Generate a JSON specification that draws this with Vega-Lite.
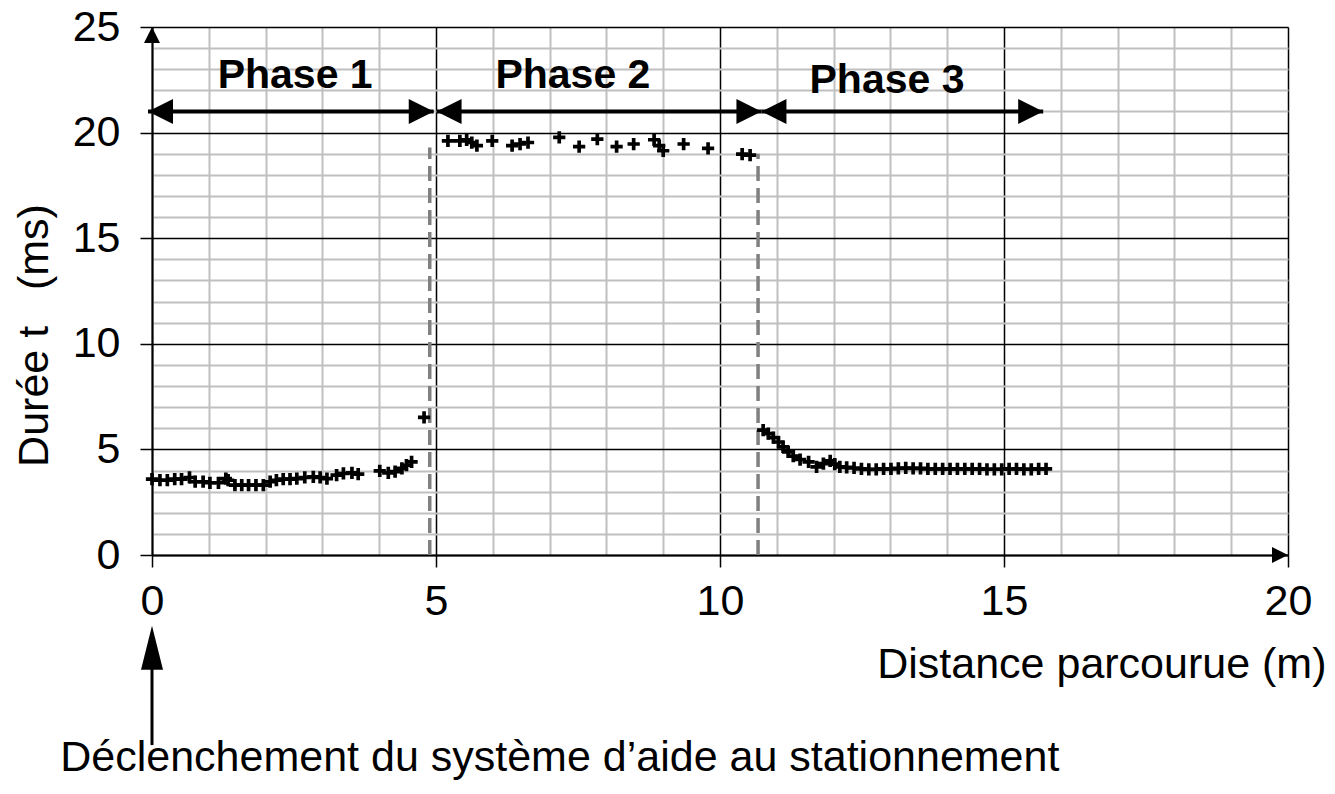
{
  "$schema": "https://vega.github.io/schema/vega-lite/v6.json",
  "width": 1136,
  "height": 528,
  "autosize": {"type": "none"},
  "padding": {"left": 152, "top": 27, "right": 47, "bottom": 239},
  "background": "white",
  "config": {"view": {"stroke": null}, "font": "Liberation Sans"},
  "datasets": {
    "points": [
      {"x": 0.00, "y": 3.59}, {"x": 0.14, "y": 3.54}, {"x": 0.27, "y": 3.54}, {"x": 0.40, "y": 3.59},
      {"x": 0.52, "y": 3.59}, {"x": 0.66, "y": 3.67}, {"x": 0.76, "y": 3.47}, {"x": 0.90, "y": 3.47},
      {"x": 1.02, "y": 3.42}, {"x": 1.17, "y": 3.42}, {"x": 1.30, "y": 3.62}, {"x": 1.34, "y": 3.54},
      {"x": 1.46, "y": 3.31}, {"x": 1.58, "y": 3.31}, {"x": 1.70, "y": 3.31}, {"x": 1.83, "y": 3.31},
      {"x": 1.96, "y": 3.31}, {"x": 2.08, "y": 3.47}, {"x": 2.19, "y": 3.54}, {"x": 2.31, "y": 3.59},
      {"x": 2.43, "y": 3.59}, {"x": 2.55, "y": 3.62}, {"x": 2.69, "y": 3.67}, {"x": 2.84, "y": 3.70},
      {"x": 2.96, "y": 3.67}, {"x": 3.08, "y": 3.62}, {"x": 3.25, "y": 3.78}, {"x": 3.37, "y": 3.86},
      {"x": 3.52, "y": 3.89}, {"x": 3.63, "y": 3.83}, {"x": 4.01, "y": 3.98}, {"x": 4.16, "y": 3.89},
      {"x": 4.28, "y": 3.95}, {"x": 4.40, "y": 4.10}, {"x": 4.48, "y": 4.25}, {"x": 4.57, "y": 4.41},
      {"x": 4.79, "y": 6.52},
      {"x": 5.21, "y": 19.61}, {"x": 5.42, "y": 19.61}, {"x": 5.54, "y": 19.66}, {"x": 5.63, "y": 19.53},
      {"x": 5.72, "y": 19.38}, {"x": 5.99, "y": 19.61}, {"x": 6.34, "y": 19.38}, {"x": 6.48, "y": 19.46},
      {"x": 6.62, "y": 19.53}, {"x": 7.17, "y": 19.77}, {"x": 7.52, "y": 19.34}, {"x": 7.84, "y": 19.69},
      {"x": 8.18, "y": 19.34}, {"x": 8.48, "y": 19.46}, {"x": 8.84, "y": 19.66}, {"x": 8.93, "y": 19.38},
      {"x": 9.00, "y": 19.14}, {"x": 9.36, "y": 19.46}, {"x": 9.79, "y": 19.25}, {"x": 10.39, "y": 18.98},
      {"x": 10.53, "y": 18.93},
      {"x": 10.76, "y": 5.91}, {"x": 10.85, "y": 5.75}, {"x": 10.94, "y": 5.56}, {"x": 11.03, "y": 5.35},
      {"x": 11.11, "y": 5.12}, {"x": 11.20, "y": 4.88}, {"x": 11.29, "y": 4.68}, {"x": 11.41, "y": 4.52},
      {"x": 11.56, "y": 4.41}, {"x": 11.70, "y": 4.17}, {"x": 11.82, "y": 4.33}, {"x": 11.94, "y": 4.46},
      {"x": 12.02, "y": 4.30}, {"x": 12.11, "y": 4.17}, {"x": 12.23, "y": 4.15}, {"x": 12.36, "y": 4.12},
      {"x": 12.49, "y": 4.08}, {"x": 12.62, "y": 4.05}, {"x": 12.75, "y": 4.06}, {"x": 12.88, "y": 4.08},
      {"x": 13.01, "y": 4.08}, {"x": 13.14, "y": 4.10}, {"x": 13.27, "y": 4.12}, {"x": 13.40, "y": 4.10},
      {"x": 13.53, "y": 4.10}, {"x": 13.66, "y": 4.08}, {"x": 13.79, "y": 4.08}, {"x": 13.92, "y": 4.08},
      {"x": 14.05, "y": 4.08}, {"x": 14.18, "y": 4.08}, {"x": 14.31, "y": 4.08}, {"x": 14.44, "y": 4.08},
      {"x": 14.57, "y": 4.08}, {"x": 14.70, "y": 4.06}, {"x": 14.83, "y": 4.06}, {"x": 14.96, "y": 4.06},
      {"x": 15.09, "y": 4.08}, {"x": 15.22, "y": 4.08}, {"x": 15.35, "y": 4.06}, {"x": 15.48, "y": 4.06},
      {"x": 15.61, "y": 4.08}, {"x": 15.74, "y": 4.08}
    ],
    "dashed": [
      {"x": 4.89, "y": 0, "y2": 19.3},
      {"x": 10.67, "y": 0, "y2": 19.0}
    ],
    "phaseArrows": [
      {"x": -0.07, "x2": 4.96, "y": 21},
      {"x": 5.01, "x2": 10.73, "y": 21},
      {"x": 10.73, "x2": 15.69, "y": 21}
    ],
    "rightHeads": [
      {"x": 4.96, "y": 21}, {"x": 10.73, "y": 21}, {"x": 15.69, "y": 21}
    ],
    "leftHeads": [
      {"x": -0.07, "y": 21}, {"x": 5.01, "y": 21}, {"x": 10.73, "y": 21}
    ],
    "xAxisHead": [{"x": 20, "y": 0}],
    "yAxisHead": [{"x": 0, "y": 25}],
    "phaseLabels": [
      {"x": 2.52, "y": 22.68, "label": "Phase 1"},
      {"x": 7.41, "y": 22.68, "label": "Phase 2"},
      {"x": 12.94, "y": 22.45, "label": "Phase 3"}
    ],
    "noteShaft": [{"x": 0, "y": -9.0, "y2": -4.6}],
    "noteHead": [{"x": 0, "y": -3.35}],
    "noteText": [{"x": 7.18, "y": -9.6, "label": "Déclenchement du système d’aide au stationnement"}]
  },
  "encoding": {
    "x": {
      "field": "x", "type": "quantitative",
      "scale": {"domain": [0, 20], "nice": false, "zero": false},
      "axis": {
        "values": [0,1,2,3,4,5,6,7,8,9,10,11,12,13,14,15,16,17,18,19,20],
        "grid": true,
        "gridColor": {"condition": {"test": "datum.value % 5 === 0", "value": "#000000"}, "value": "#c0c0c0"},
        "gridWidth": {"condition": {"test": "datum.value % 5 === 0", "value": 1.5}, "value": 2},
        "gridOpacity": 1,
        "domain": true, "domainColor": "#000000", "domainWidth": 2,
        "ticks": true, "tickSize": 12, "tickColor": "#000000", "tickWidth": 1.5,
        "tickOpacity": {"condition": {"test": "datum.value % 5 === 0", "value": 1}, "value": 0},
        "labelExpr": "datum.value % 5 === 0 ? datum.label : ''",
        "labelFont": "Liberation Sans", "labelFontSize": 43, "labelColor": "#000000",
        "labelPadding": 13, "labelFlush": false, "labelOverlap": false,
        "title": "Distance parcourue (m)",
        "titleFont": "Liberation Sans", "titleFontSize": 43, "titleFontWeight": "normal", "titleColor": "#000000",
        "titleAlign": "right", "titleAnchor": "end", "titleX": 1174, "titleY": 122, "titleBaseline": "alphabetic"
      }
    },
    "y": {
      "field": "y", "type": "quantitative",
      "scale": {"domain": [0, 25], "nice": false, "zero": false},
      "axis": {
        "values": [0,1,2,3,4,5,6,7,8,9,10,11,12,13,14,15,16,17,18,19,20,21,22,23,24,25],
        "grid": true,
        "gridColor": {"condition": {"test": "datum.value % 5 === 0", "value": "#000000"}, "value": "#c0c0c0"},
        "gridWidth": {"condition": {"test": "datum.value % 5 === 0", "value": 1.5}, "value": 2},
        "gridOpacity": 1,
        "domain": true, "domainColor": "#000000", "domainWidth": 2,
        "ticks": true, "tickSize": 12, "tickColor": "#000000", "tickWidth": 1.5,
        "tickOpacity": {"condition": {"test": "datum.value % 5 === 0", "value": 1}, "value": 0},
        "labelExpr": "datum.value % 5 === 0 ? datum.label : ''",
        "labelFont": "Liberation Sans", "labelFontSize": 43, "labelColor": "#000000",
        "labelPadding": 20, "labelFlush": false, "labelOverlap": false,
        "title": "Durée t\u00a0\u00a0 (ms)",
        "titleFont": "Liberation Sans", "titleFontSize": 43, "titleFontWeight": "normal", "titleColor": "#000000",
        "titleAngle": 270, "titleAlign": "center", "titleX": -105, "titleY": 308, "titleBaseline": "alphabetic"
      }
    }
  },
  "layer": [
    {
      "data": {"name": "dashed"},
      "mark": {"type": "rule", "color": "#808080", "strokeWidth": 3.5, "strokeDash": [15, 7]},
      "encoding": {"y2": {"field": "y2"}}
    },
    {
      "data": {"name": "phaseArrows"},
      "mark": {"type": "rule", "color": "#000000", "strokeWidth": 4},
      "encoding": {"x2": {"field": "x2"}}
    },
    {
      "data": {"name": "rightHeads"},
      "mark": {"type": "point", "shape": "M0,0L-1,-0.5L-1,0.5Z", "size": 2500, "filled": true, "color": "#000000", "opacity": 1, "strokeWidth": 0}
    },
    {
      "data": {"name": "leftHeads"},
      "mark": {"type": "point", "shape": "M0,0L1,-0.5L1,0.5Z", "size": 2500, "filled": true, "color": "#000000", "opacity": 1, "strokeWidth": 0}
    },
    {
      "data": {"name": "xAxisHead"},
      "mark": {"type": "point", "shape": "M0,0L-1,-0.5L-1,0.5Z", "size": 1024, "filled": true, "color": "#000000", "opacity": 1, "strokeWidth": 0}
    },
    {
      "data": {"name": "yAxisHead"},
      "mark": {"type": "point", "shape": "M0,0L-0.5,1L0.5,1Z", "size": 1024, "filled": true, "color": "#000000", "opacity": 1, "strokeWidth": 0}
    },
    {
      "data": {"name": "points"},
      "mark": {"type": "point", "shape": "M-1,-0.3L-0.3,-0.3L-0.3,-1L0.3,-1L0.3,-0.3L1,-0.3L1,0.3L0.3,0.3L0.3,1L-0.3,1L-0.3,0.3L-1,0.3Z", "size": 150, "filled": true, "color": "#000000", "opacity": 1, "strokeWidth": 0}
    },
    {
      "data": {"name": "phaseLabels"},
      "mark": {"type": "text", "font": "Liberation Sans", "fontSize": 41, "fontWeight": "bold", "color": "#000000", "align": "center", "baseline": "middle"},
      "encoding": {"text": {"field": "label"}}
    },
    {
      "data": {"name": "noteShaft"},
      "mark": {"type": "rule", "color": "#000000", "strokeWidth": 3},
      "encoding": {"y2": {"field": "y2"}}
    },
    {
      "data": {"name": "noteHead"},
      "mark": {"type": "point", "shape": "M0,0L-0.25,1L0.25,1Z", "size": 7744, "filled": true, "color": "#000000", "opacity": 1, "strokeWidth": 0}
    },
    {
      "data": {"name": "noteText"},
      "mark": {"type": "text", "font": "Liberation Sans", "fontSize": 43, "color": "#000000", "align": "center", "baseline": "middle"},
      "encoding": {"text": {"field": "label"}}
    }
  ]
}
